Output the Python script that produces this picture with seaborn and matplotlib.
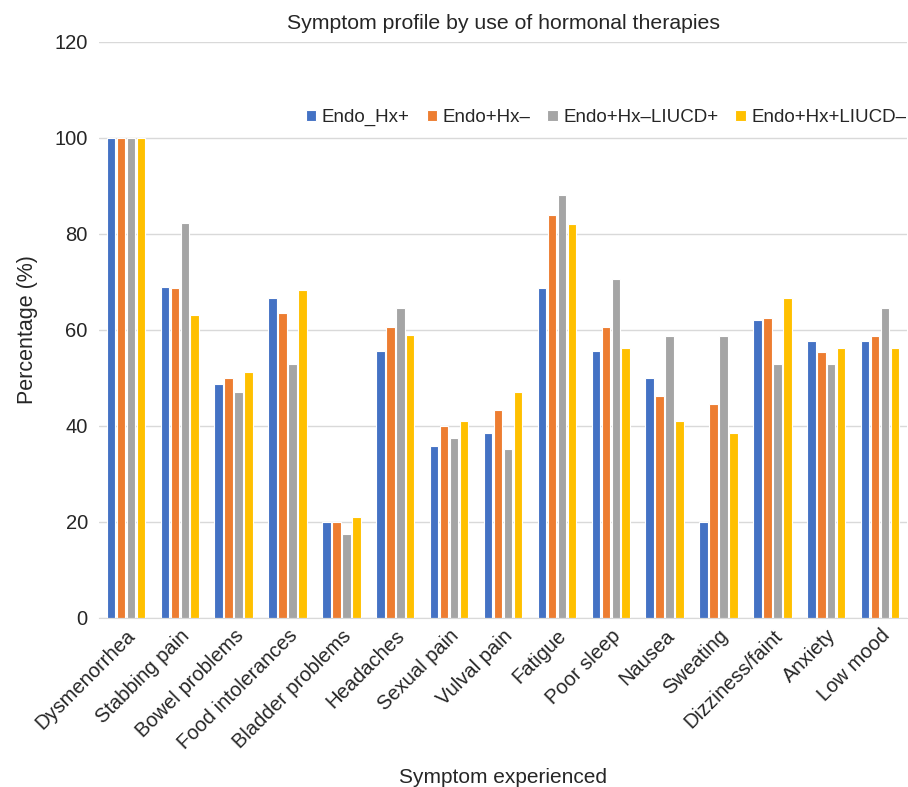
import pandas as pd
import matplotlib
matplotlib.use("Agg")
import matplotlib.pyplot as plt
import seaborn as sns

# data
symptoms = ["Dysmenorrhea", "Stabbing pain", "Bowel problems", "Food intolerances",
            "Bladder problems", "Headaches", "Sexual pain", "Vulval pain", "Fatigue",
            "Poor sleep", "Nausea", "Sweating", "Dizziness/faint", "Anxiety", "Low mood"]
groups = ["Endo_Hx+", "Endo+Hx\u2013", "Endo+Hx\u2013LIUCD+", "Endo+Hx+LIUCD\u2013"]

endo_hx_pos = [100, 69.0, 48.8, 66.6, 20.0, 55.5, 35.8, 38.5, 68.8, 55.5, 50.0, 20.0, 62.1, 57.7, 57.7]
endo_hx_neg = [100, 68.8, 50.0, 63.5, 20.0, 60.6, 40.0, 43.2, 83.9, 60.6, 46.3, 44.5, 62.4, 55.3, 58.8]
endo_liucd_pos = [100, 82.3, 47.0, 52.8, 17.5, 64.6, 37.4, 35.2, 88.1, 70.6, 58.8, 58.8, 52.8, 52.8, 64.6]
endo_liucd_neg = [100, 63.1, 51.2, 68.3, 21.0, 58.9, 41.0, 47.1, 82.1, 56.3, 40.9, 38.4, 66.6, 56.3, 56.3]

colors = ["#4472C4", "#ED7D31", "#A5A5A5", "#FFC000"]

# long format for seaborn
rows = []
for grp, vals in zip(groups, [endo_hx_pos, endo_hx_neg, endo_liucd_pos, endo_liucd_neg]):
    for s, v in zip(symptoms, vals):
        rows.append({"Symptom": s, "Group": grp, "Percentage": v})
df = pd.DataFrame(rows)

sns.set_style("white")
plt.rcParams["font.family"] = ["Liberation Sans", "DejaVu Sans"]

fig = plt.figure(figsize=(9.08, 7.87), dpi=100)
ax = fig.add_axes([0.109, 0.215, 0.89, 0.732])

sns.barplot(data=df, x="Symptom", y="Percentage", hue="Group", palette=colors,
            saturation=1, width=0.74, gap=0.15, edgecolor="white", linewidth=0.8, ax=ax)

ax.set_ylim(0, 120)
ax.set_yticks(range(0, 121, 20))
ax.yaxis.grid(True, color="#D9D9D9", linewidth=1)
ax.set_axisbelow(True)
for side in ["left", "right", "top"]:
    ax.spines[side].set_visible(False)
ax.spines["bottom"].set_color("#D9D9D9")
ax.tick_params(axis="both", length=0, labelsize=14.5, pad=6)
ax.tick_params(axis="y", pad=8)
plt.setp(ax.get_xticklabels(), rotation=45, ha="right", rotation_mode="anchor")

ax.set_xlabel("Symptom experienced", fontsize=15, labelpad=11)
ax.set_ylabel("Percentage (%)", fontsize=15.5, labelpad=12)
ax.set_title("Symptom profile by use of hormonal therapies", fontsize=15.3, pad=9)

ax.legend(loc="upper right", bbox_to_anchor=(1.02, 0.912), ncol=4, frameon=False,
          fontsize=13.5, handlelength=0.55, handleheight=0.55, handletextpad=0.3,
          columnspacing=0.9)

fig.savefig("out.png", dpi=100)
